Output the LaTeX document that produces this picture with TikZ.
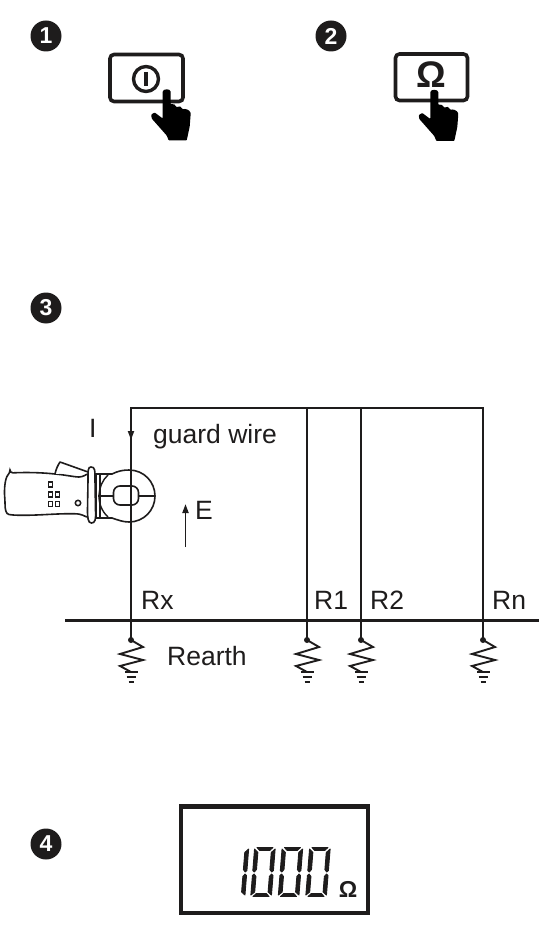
\documentclass[tikz,border=0pt]{standalone}
\usepackage{fontspec}
\setmainfont{Liberation Sans}
\usetikzlibrary{arrows.meta}
\definecolor{ink}{HTML}{1E1C1C}
\tikzset{
  lab/.style={anchor=base west,inner sep=0pt,text=ink,font=\fontsize{26.5}{30}\selectfont},
  numdot/.style={circle,fill=ink,minimum size=31pt,inner sep=0pt,text=white,font=\bfseries\fontsize{23}{25}\selectfont},
  wire/.style={draw=ink,line width=1.9pt},
  keybox/.style={draw=ink,line width=3.6pt,rounded corners=4pt},
  tipped/.style={wire,-{Triangle[length=9pt,width=6pt]}},
  clampline/.style={draw=ink,line width=1.6pt,fill=white},
  btn/.style={draw=ink,line width=1.5pt},
  handpic/.pic={
    \fill[black,rounded corners=0.8pt] (-4,3) .. controls (-4,-1) and (4,-1) .. (4,3) -- (4,15)
      .. controls (6,14) and (9,15) .. (10,18) .. controls (12,16) and (15,17) .. (16,20)
      .. controls (18,19) and (23,20) .. (24,24) -- (23,37) -- (20,51) -- (2,51) -- (0,46)
      -- (-15,29) -- (-15.5,25) -- (-12,23) -- (-4,29) -- cycle;
  },
  earthpic/.pic={
    \fill[ink] (0,0) circle (3);
    \draw[ink,line width=1.9pt,line join=miter] (0,0) -- (12,7) -- (-11,14) -- (12,20) -- (-11,26) -- (0,32);
    \draw[ink,line width=1.9pt] (-6,32) -- (7,32);
    \draw[ink,line width=1.8pt] (-4.5,37) -- (5,37);
    \draw[ink,line width=1.8pt] (-2.5,42) -- (3,42);
  },
  digitzero/.pic={
    \begin{scope}[xslant=0.08,line width=0.9pt,line join=round]
      \filldraw[ink] (0.2,-2) -- (3.8,-5) -- (3.8,-20.5) -- (1.8,-23) -- (0.2,-21.5) -- cycle;
      \filldraw[ink] (0.2,-26.5) -- (1.8,-25) -- (3.8,-27.5) -- (3.8,-44.5) -- (0.2,-48) -- cycle;
      \filldraw[ink] (20.8,-2) -- (17.2,-5) -- (17.2,-20.5) -- (19.2,-23) -- (20.8,-21.5) -- cycle;
      \filldraw[ink] (20.8,-26.5) -- (19.2,-25) -- (17.2,-27.5) -- (17.2,-44.5) -- (20.8,-48) -- cycle;
      \filldraw[ink] (2.5,-0.5) -- (18.5,-0.5) -- (15.5,-3.5) -- (5.5,-3.5) -- cycle;
      \filldraw[ink] (2.5,-49.5) -- (18.5,-49.5) -- (15.5,-46.5) -- (5.5,-46.5) -- cycle;
    \end{scope}
  },
  digitone/.pic={
    \begin{scope}[xslant=0.08,line width=0.9pt,line join=round]
      \filldraw[ink] (20.8,-2) -- (17.2,-5) -- (17.2,-20.5) -- (19.2,-23) -- (20.8,-21.5) -- cycle;
      \filldraw[ink] (20.8,-26.5) -- (19.2,-25) -- (17.2,-27.5) -- (17.2,-44.5) -- (20.8,-48) -- cycle;
    \end{scope}
  }
}
\begin{document}
\begin{tikzpicture}[x=1pt,y=-1pt]
\useasboundingbox (0,0) rectangle (552,933);
\node[numdot] (n1) at (46,36) {1};
\node[numdot] (n2) at (331,36) {2};
\node[numdot] (n3) at (46,308) {3};
\node[numdot] (n4) at (46,844) {4};

% key 1
\draw[keybox] (110,54.5) rectangle (183,101.5);
\draw[ink,line width=3.4pt] (146,79) circle (12.5);
\draw[ink,line width=3.4pt] (146,72) -- (146,86);
\pic at (166.7,89.5) {handpic};
% key 2
\draw[keybox] (395.5,54) rectangle (467.5,100.5);
\node[inner sep=0pt,text=ink,font=\bfseries\fontsize{37}{40}\selectfont] (om) at (431,75) {Ω};
\pic at (434.3,90) {handpic};

% wires
\coordinate (a0) at (131,408);
\coordinate (a1) at (307,408);
\coordinate (a2) at (361,408);
\coordinate (a3) at (483,408);
\coordinate (g0) at (131,640);
\coordinate (g1) at (307,640);
\coordinate (g2) at (361,640);
\coordinate (g3) at (483,640);
\coordinate (gl) at (65,620.5);
\coordinate (gr) at (539,620.5);
\coordinate (i0) at (131,420);
\coordinate (i1) at (131,440);
\coordinate (e0) at (185.5,547);
\coordinate (e1) at (185.5,504);

% clamp (drawn under the wire)
\draw[clampline,rounded corners=3pt] (10,473) .. controls (30,472) and (45,473) .. (55,474)
  .. controls (65,475) and (75,477) .. (82,477) -- (89,473) -- (89,518) -- (80,514)
  .. controls (60,513) and (35,516) .. (12,515) .. controls (6,514) and (5,510) .. (5,500)
  .. controls (4,490) and (5,478) .. (10,473) -- cycle;
\draw[clampline,line join=round] (55,474) .. controls (56,469) and (58,465) .. (60,462) -- (88,472);
\draw[clampline] (96,474) -- (112,474) .. controls (118,471) and (123,470) .. (129,470)
  .. controls (144,470) and (155,482) .. (155,496) .. controls (155,510) and (144,522) .. (129,522)
  .. controls (123,522) and (118,520) .. (112,518) -- (96,518) -- cycle;
\draw[ink,line width=1.4pt] (100,474) -- (100,518);
\draw[ink,line width=1.4pt] (108,475) .. controls (97,485) and (95,505) .. (108,517);
\draw[clampline] (91,467) .. controls (95,467) and (95,470) .. (95,480) -- (95.5,510)
  .. controls (96,520) and (95,523) .. (91.5,523) .. controls (88,523) and (87.5,518) .. (87.5,510)
  -- (88,480) .. controls (88,470) and (88,467) .. (91,467) -- cycle;
\draw[clampline,rounded corners=6.5pt] (113.5,486) rectangle (138.5,505);
\draw[ink,line width=1.6pt] (98,496) -- (113.5,496);
\draw[ink,line width=1.6pt] (138.5,496) -- (155,496);
\foreach \x/\y in {48.5/482,48.5/492,55.5/492,48.5/501.5,55.5/501.5}
  \draw[btn] (\x,\y) rectangle ++(3.8,5);
\draw[btn] (78,503) circle (2.7);

\draw[wire] (g0) -- (a0) -- (a3) -- (g3);
\draw[wire] (a1) -- (g1);
\draw[wire] (a2) -- (g2);
\draw[draw=ink,line width=2.2pt] (gl) -- (gr);
\draw[tipped] (i0) -- (i1);
\draw[tipped] (e0) -- (e1);

\foreach \c in {g0,g1,g2,g3} \pic at (\c) {earthpic};

\node[lab] (tI) at (89,437) {I};
\node[lab] (tg) at (153,443) {guard wire};
\node[lab] (tE) at (195,519) {E};
\node[lab] (tRx) at (141,609) {Rx};
\node[lab] (tR1) at (314,609) {R1};
\node[lab] (tR2) at (370,609) {R2};
\node[lab] (tRn) at (492,609) {Rn};
\node[lab] (tRe) at (167,665) {Rearth};

% display
\draw[draw=ink,line width=4.8pt] (181,806.5) rectangle (368,913);
\pic at (224,897) {digitone};
\pic at (250.5,897) {digitzero};
\pic at (278,897) {digitzero};
\pic at (305.5,897) {digitzero};
\node[anchor=base,inner sep=0pt,text=ink,font=\bfseries\fontsize{23}{25}\selectfont] (omega) at (348,897) {Ω};
\end{tikzpicture}
\end{document}
